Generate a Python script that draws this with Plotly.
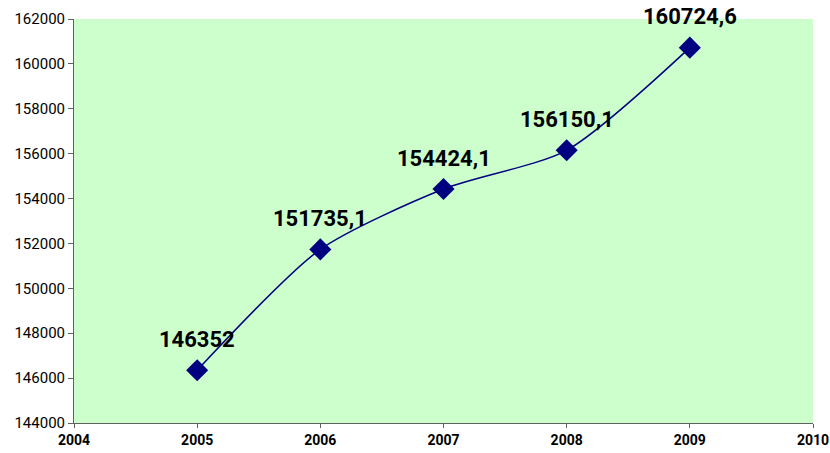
import plotly.graph_objects as go

years = [2005, 2006, 2007, 2008, 2009]
values = [146352, 151735.1, 154424.1, 156150.1, 160724.6]
labels = ["146352", "151735,1", "154424,1", "156150,1", "160724,6"]
x_ticks = [2004, 2005, 2006, 2007, 2008, 2009, 2010]
y_ticks = list(range(144000, 162001, 2000))

fig = go.Figure()
fig.add_trace(go.Scatter(
    x=years, y=values, mode="lines+markers",
    line=dict(color="#000080", width=1.5, shape="spline", smoothing=0.7),
    marker=dict(symbol="diamond", size=17, color="#000080"),
    hoverinfo="skip", cliponaxis=False,
))
for xv, yv, t in zip(years, values, labels):
    fig.add_annotation(x=xv, y=yv, text=t, showarrow=False, yshift=31,
                       font=dict(family="Roboto", size=22, color="#000000", weight="bold"))

fig.update_layout(
    width=830, height=453,
    margin=dict(l=74, r=17, t=19, b=30, autoexpand=False),
    paper_bgcolor="white", plot_bgcolor="#CCFFCC",
    showlegend=False,
    font=dict(family="Roboto", color="#000000"),
)
fig.update_xaxes(range=[2004, 2010], tickvals=x_ticks, ticktext=[str(v) for v in x_ticks],
                 showgrid=False, zeroline=False, showline=True, linecolor="#606060", linewidth=1,
                 ticks="outside", ticklen=4, tickcolor="#606060", automargin=False,
                 tickfont=dict(family="Roboto", size=14, weight="bold"))
fig.update_yaxes(range=[144000, 162000], tickvals=y_ticks, ticktext=[str(v) for v in y_ticks],
                 showgrid=False, zeroline=False, showline=True, linecolor="#606060", linewidth=1,
                 ticks="outside", ticklen=5, tickcolor="#606060", automargin=False,
                 tickfont=dict(family="Roboto", size=15))

fig.write_html("out.html", config={"displayModeBar": False},
               post_script="document.body.style.margin='0px';document.body.style.overflow='hidden';")
